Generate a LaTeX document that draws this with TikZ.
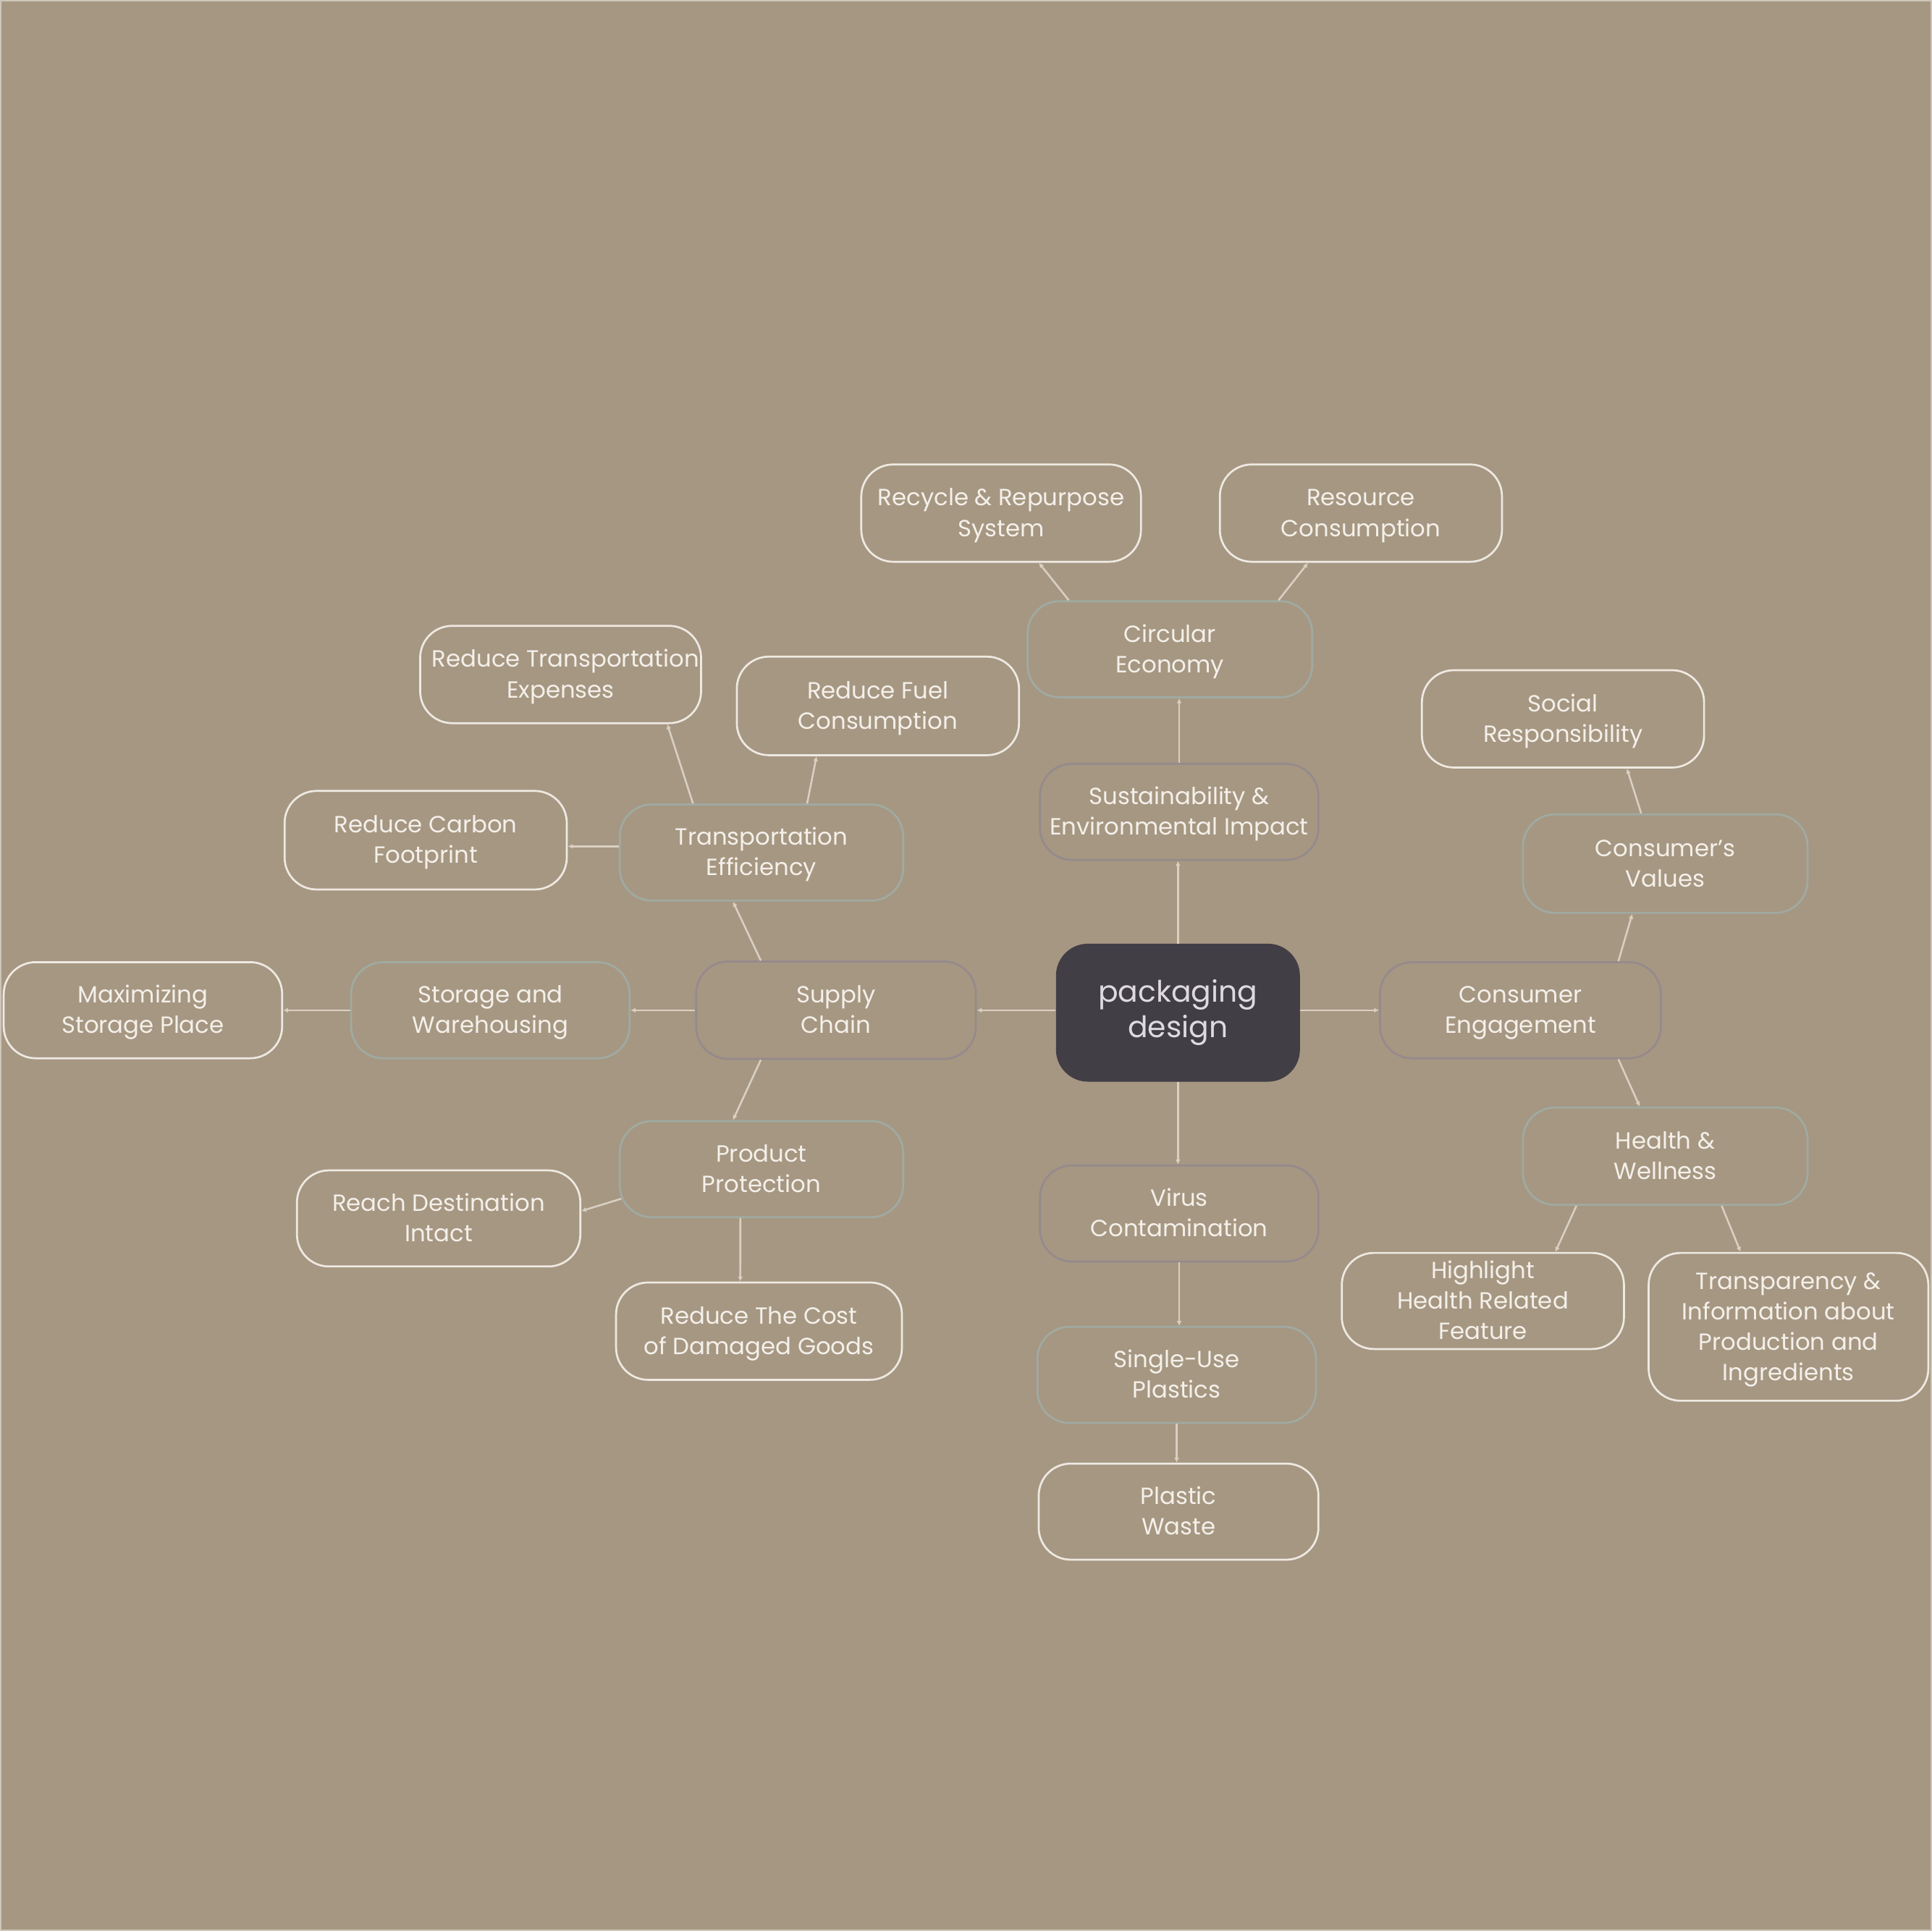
\documentclass[tikz,border=0pt]{standalone}
\usepackage{fontspec}
\setmainfont{Poppins}
\usetikzlibrary{arrows.meta,calc}
\definecolor{bg}{HTML}{A69782}
\definecolor{connc}{HTML}{D9D0C2}
\definecolor{leafc}{HTML}{EEE9E2}
\definecolor{sagec}{HTML}{A0AAA2}
\definecolor{mauvec}{HTML}{958A8C}
\definecolor{txt}{HTML}{F4F0EA}
\definecolor{pdfill}{HTML}{423E46}
\definecolor{framec}{HTML}{CFC6BA}
\newcommand\tstrut{\rule{0pt}{19.3pt}}
\tikzset{
  base/.style={rounded corners=26pt, minimum height=79pt, align=center, text=txt,
    line width=1.6pt, inner sep=0pt, font=\fontsize{19}{24.7}\selectfont,
    execute at end node={\rule[-6.3pt]{0pt}{0pt}}},
  leaf/.style={base, draw=leafc},
  lvtwo/.style={base, draw=sagec},
  lvone/.style={base, draw=mauvec},
  conn/.style={draw=connc, line width=1.5pt, -{Latex[length=4pt,width=4pt]}},
}
\begin{document}
\begin{tikzpicture}[x=1pt,y=-1pt]
\fill[bg] (0,0) rectangle (1568,1567.4);
\useasboundingbox (0,0) rectangle (1568,1567.4);
\draw[framec, line width=1.2pt] (0.6,0.6) rectangle (1567.4,1566.8);

% center
\node[rounded corners=26pt, fill=pdfill, minimum width=198pt, minimum height=112pt, inner sep=0pt,
  align=center, text={rgb,255:red,222;green,218;blue,224}, font=\fontsize{24}{29}\selectfont] (pd) at (956,822) {packaging\\design};

% level one
\node[lvone, minimum width=227pt] (sc) at (678.5,820) {\tstrut Supply\\Chain};
\node[lvone, minimum width=226pt, minimum height=78pt] (sust) at (957,659) {\tstrut Sustainability \&\\Environmental Impact};
\node[lvone, minimum width=228pt, minimum height=78pt] (ce) at (1234,820) {\tstrut Consumer\\Engagement};
\node[lvone, minimum width=226pt, minimum height=78pt] (vc) at (957,985) {\tstrut Virus\\Contamination};

% level two
\node[lvtwo, minimum width=230pt, minimum height=78pt] (te) at (618,692) {\tstrut Transportation\\Efficiency};
\node[lvtwo, minimum width=226pt, minimum height=78pt] (sw) at (398,820) {\tstrut Storage and\\Warehousing};
\node[lvtwo, minimum width=230pt, minimum height=78pt] (pp) at (618,949) {\tstrut Product\\Protection};
\node[lvtwo, minimum width=231pt, minimum height=78pt] (circ) at (949.5,527) {\tstrut Circular\\Economy};
\node[lvtwo, minimum width=231pt, minimum height=80pt] (cv) at (1351.5,701) {\tstrut Consumer’s\\Values};
\node[lvtwo, minimum width=231pt, minimum height=79pt] (hw) at (1351.5,938.5) {\tstrut Health \&\\Wellness};
\node[lvtwo, minimum width=226pt, minimum height=78pt] (sup) at (955,1116) {\tstrut Single-Use\\Plastics};

% leaves
\node[leaf, minimum width=227pt] (rec) at (812.5,416.5) {\tstrut Recycle \& Repurpose\\System};
\node[leaf, minimum width=229pt] (res) at (1104.5,416.5) {\tstrut Resource\\Consumption};
\node[leaf, minimum width=228pt] (rte) at (455,547.5) {\tstrut\hspace{8pt}Reduce Transportation\\Expenses};
\node[leaf, minimum width=229pt, minimum height=80pt] (rfc) at (712.5,573) {\tstrut Reduce Fuel\\Consumption};
\node[leaf, minimum width=229pt] (soc) at (1268.5,583.5) {\tstrut Social\\Responsibility};
\node[leaf, minimum width=229pt, minimum height=80pt] (rcf) at (345.5,682) {\tstrut Reduce Carbon\\Footprint};
\node[leaf, minimum width=226pt, minimum height=78pt] (msp) at (116,820) {\tstrut Maximizing\\Storage Place};
\node[leaf, minimum width=230pt, minimum height=78pt] (rdi) at (356,989) {\tstrut Reach Destination\\Intact};
\node[leaf, minimum width=229pt, minimum height=78pt] (hhr) at (1203.5,1056) {\tstrut Highlight\\Health Related\\Feature};
\node[leaf, minimum width=227pt, minimum height=120pt] (tra) at (1451.5,1077) {\tstrut Transparency \&\\Information about\\Production and\\Ingredients};
\node[leaf, minimum width=232pt] (rcd) at (616,1080.5) {\tstrut Reduce The Cost\\of Damaged Goods};
\node[leaf, minimum width=227pt, minimum height=78pt] (pw) at (956.5,1227) {\tstrut Plastic\\Waste};

% connectors: supply chain branch
\draw[conn] ($(pd.west)+(0,-2)$) -- (sc.east);
\draw[conn] (sc.west) -- (sw.east);
\draw[conn] (sw.west) -- (msp.east);
\draw[conn] ($(sc.north west)!0.233!(sc.north east)$) -- ($(te.south west)!0.4!(te.south east)$);
\draw[conn] ($(te.west)+(0,-5)$) -- ($(rcf.east)+(0,5)$);
\draw[conn] ($(te.north west)!0.26!(te.north east)$) -- ($(rte.south west)!0.877!(rte.south east)$);
\draw[conn] ($(te.north west)!0.66!(te.north east)$) -- ($(rfc.south west)!0.284!(rfc.south east)$);
\draw[conn] ($(sc.south west)!0.233!(sc.south east)$) -- ($(pp.north west)!0.4!(pp.north east)$);
\draw[conn] ($(pp.west)+(2,24)$) -- ($(rdi.east)+(0,-6)$);
\draw[conn] ($(pp.south west)!0.426!(pp.south east)$) -- ($(rcd.north west)!0.435!(rcd.north east)$);

% sustainability branch
\draw[conn] (pd.north) -- (pd.north |- sust.south);
\draw[conn] (sust.north) -- (sust.north |- circ.south);
\draw[conn] ($(circ.north west)!0.147!(circ.north east)$) -- ($(rec.south west)!0.634!(rec.south east)$);
\draw[conn] ($(circ.north west)!0.879!(circ.north east)$) -- ($(res.south west)!0.314!(res.south east)$);

% virus branch
\draw[conn] (pd.south) -- (pd.south |- vc.north);
\draw[conn] (vc.south) -- (vc.south |- sup.north);
\draw[conn] (sup.south) -- (sup.south |- pw.north);

% consumer branch
\draw[conn] ($(pd.east)+(0,-2)$) -- (ce.west);
\draw[conn] ($(ce.north west)!0.846!(ce.north east)$) -- ($(cv.south west)!0.385!(cv.south east)$);
\draw[conn] ($(cv.north west)!0.416!(cv.north east)$) -- ($(soc.south west)!0.725!(soc.south east)$);
\draw[conn] ($(ce.south west)!0.846!(ce.south east)$) -- ($(hw.north west)!0.411!(hw.north east)$);
\draw[conn] ($(hw.south west)!0.19!(hw.south east)$) -- ($(hhr.north west)!0.755!(hhr.north east)$);
\draw[conn] ($(hw.south west)!0.697!(hw.south east)$) -- ($(tra.north west)!0.33!(tra.north east)$);
\end{tikzpicture}
\end{document}
